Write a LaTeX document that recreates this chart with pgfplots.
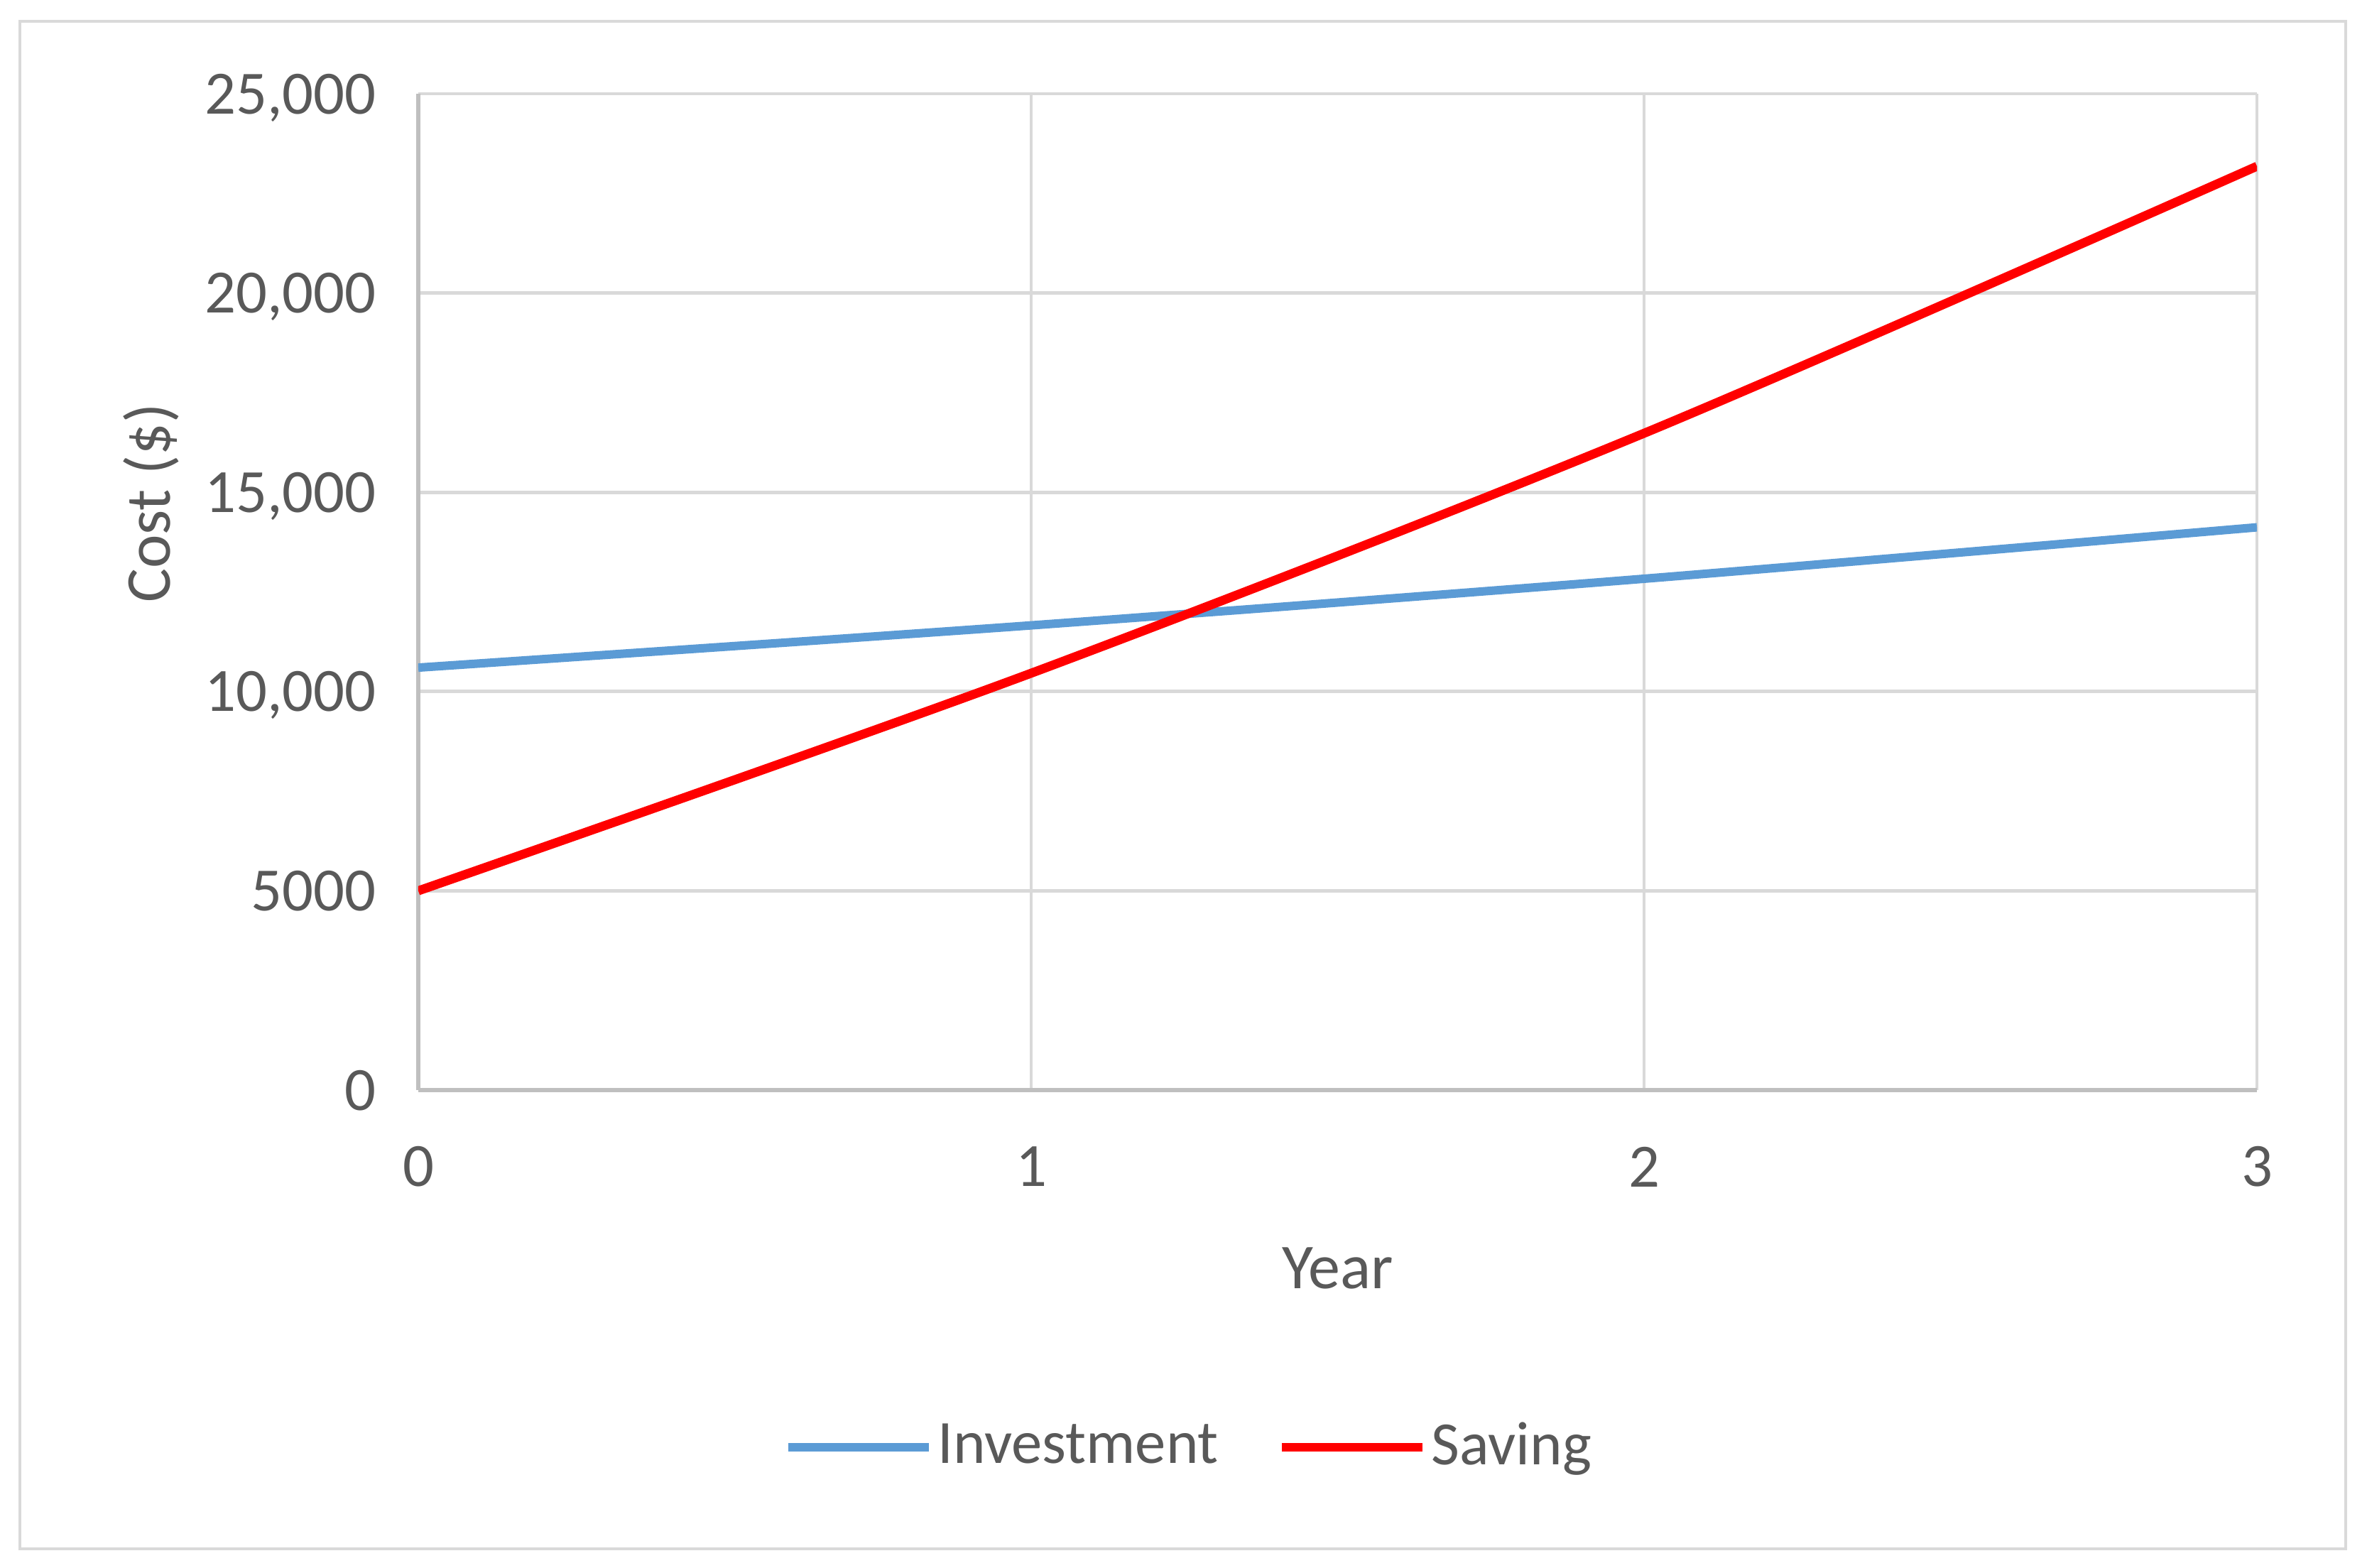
\documentclass[border=0pt]{standalone}
\usepackage{pgfplots}
\pgfplotsset{compat=1.18}
\usepackage{fontspec}
\setmainfont{Carlito}
\definecolor{txt}{HTML}{595959}
\definecolor{gridc}{HTML}{D9D9D9}
\definecolor{axc}{HTML}{BFBFBF}
\definecolor{inv}{HTML}{5B9BD5}
\definecolor{sav}{HTML}{FF0000}
\begin{document}
\begin{tikzpicture}
\path[use as bounding box, fill=white] (-88.35pt,-100.95pt) rectangle (411.6pt,230.25pt);
\draw[gridc, line width=0.6pt] (-84.15pt,-96.9pt) rectangle (407.1pt,225.75pt);
\begin{axis}[
  at={(0,0)}, anchor=south west,
  scale only axis,
  width=388.35pt, height=210.45pt,
  xmin=0, xmax=3, ymin=0, ymax=25000,
  xtick={0,1,2,3}, xticklabels={0,1,2,3},
  ytick={0,5000,10000,15000,20000,25000},
  yticklabels={0,5000,{10,000},{15,000},{20,000},{25,000}},
  scaled y ticks=false, scaled x ticks=false,
  /pgf/number format/assume math mode=true,
  axis x line*=bottom, axis y line*=left,
  axis line style={axc, line width=0.8pt, -},
  major tick length=0pt,
  grid=major,
  major grid style={gridc, line width=0.7pt},
  tick label style={font=\fontsize{13}{15}\selectfont, text=txt},
  xticklabel style={anchor=center, yshift=-16.2pt},
  yticklabel style={anchor=east, inner sep=0pt, xshift=-8.7pt, text depth=0pt},
  xlabel={Year}, ylabel={Cost (\$)},
  label style={font=\fontsize{13.5}{16}\selectfont, text=txt},
  xlabel style={at={(axis description cs:0.5,0)}, anchor=center, yshift=-37.65pt},
  ylabel style={at={(axis description cs:-0.1452,0.589)}, anchor=center},
  legend columns=-1,
  legend style={at={(axis description cs:0.199,-0.3585)}, anchor=west,
    draw=none, fill=none, inner sep=0pt, outer sep=0pt,
    font=\fontsize{13}{15}\selectfont, text=txt,
    /tikz/every odd column/.append style={column sep=1pt},
    /tikz/every even column/.append style={column sep=12.5pt},
    nodes={inner xsep=0pt}},
  legend image code/.code={\draw[#1] (0pt,0pt) -- (29.6pt,0pt);},
]
\addplot[inv, line width=1.8pt, smooth, tension=0.5] coordinates {(0,10600) (1,11660) (2,12830) (3,14120)};
\addlegendentry{Investment}
\addplot[sav, line width=1.9pt, smooth, tension=0.5] coordinates {(0,5000) (1,10460) (2,16480) (3,23180)};
\addlegendentry{Saving}
\end{axis}
\end{tikzpicture}
\end{document}
